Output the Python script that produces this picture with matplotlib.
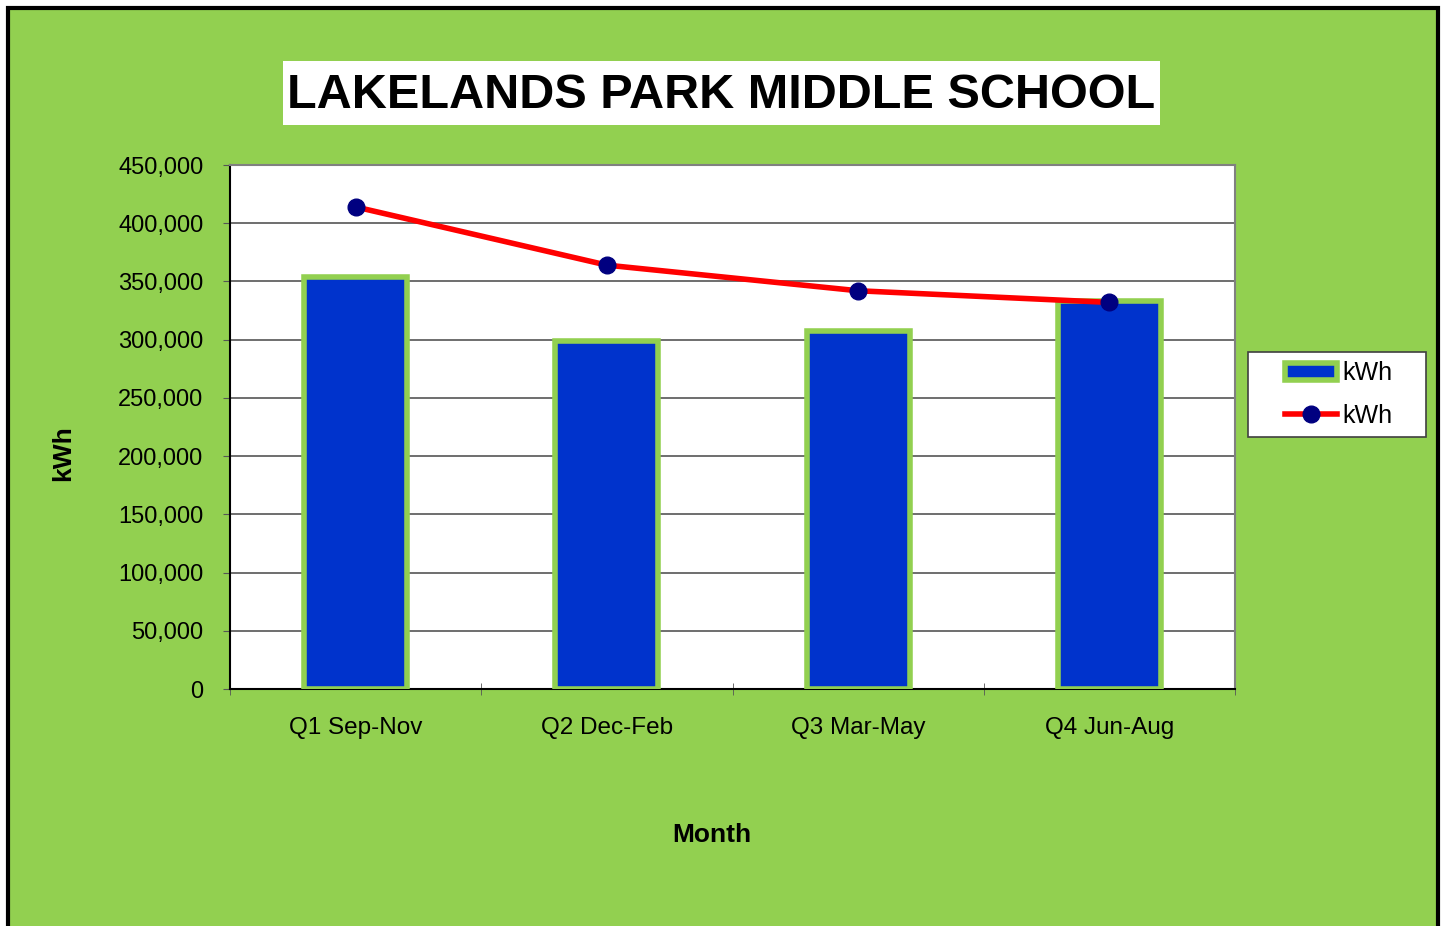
import matplotlib
matplotlib.use("Agg")
import matplotlib.pyplot as plt
from matplotlib.patches import Rectangle
from matplotlib.ticker import FuncFormatter, MultipleLocator
import numpy as np

categories = ["Q1 Sep-Nov", "Q2 Dec-Feb", "Q3 Mar-May", "Q4 Jun-Aug"]
bar_kwh = [354000, 299000, 307500, 333500]
line_kwh = [414000, 364000, 342000, 332000]
title = "LAKELANDS PARK MIDDLE SCHOOL"

GREEN = "#92D050"
BLUE = "#0033CC"
NAVY = "#000080"

plt.rcParams['font.family'] = ['Liberation Sans', 'DejaVu Sans']

W, H = 1444, 926
fig = plt.figure(figsize=(W/100, H/100), dpi=100)
fig.patch.set_facecolor("white")

# outer green panel with black border
fig.patches.append(Rectangle((8/W, -0.05), (1438-8)/W, (H-8)/H + 0.05,
                             transform=fig.transFigure, facecolor=GREEN,
                             edgecolor="black", linewidth=3, zorder=-10))
# title box
fig.patches.append(Rectangle((283/W, 1-125/H), (1160-283)/W, (125-61)/H,
                             transform=fig.transFigure, facecolor="white",
                             edgecolor="none", zorder=-9))
fig.text(721/W, 1-95/H, title, ha="center", va="center", fontsize=35,
         fontweight="bold", color="black", zorder=2)
# legend box
fig.patches.append(Rectangle((1248/W, 1-437/H), (1426-1248)/W, (437-352)/H,
                             transform=fig.transFigure, facecolor="white",
                             edgecolor="#404040", linewidth=1.2, zorder=-8))

ax = fig.add_axes([230/W, 1-689/H, (1235-230)/W, (689-165)/H])
ax.set_zorder(5)
ax.set_facecolor("white")

x = np.arange(len(categories))
bars = ax.bar(x, bar_kwh, width=0.41, color=BLUE, edgecolor=GREEN,
              linewidth=4, label="kWh", zorder=3)
line, = ax.plot(x, line_kwh, color="red", linewidth=4, marker="o",
                markersize=12, markerfacecolor=NAVY, markeredgecolor=NAVY,
                label="kWh", zorder=4)

ax.set_xlim(-0.5, len(categories)-0.5)
ax.set_ylim(0, 450000)
ax.yaxis.set_major_locator(MultipleLocator(50000))
ax.yaxis.set_major_formatter(FuncFormatter(lambda v, p: f"{int(v):,}"))
ax.grid(axis="y", color="#555555", linewidth=1.2, zorder=1)
ax.set_axisbelow(True)

ax.set_xticks(x)
ax.set_xticklabels(categories)
ax.set_xticks(np.arange(len(categories)+1) - 0.5, minor=True)
ax.tick_params(axis="x", which="major", length=0, pad=20, labelsize=17.5)
ax.tick_params(axis="x", which="minor", length=8, direction="inout",
               color="#555555")
ax.tick_params(axis="y", length=5, direction="out", color="#555555",
               labelsize=17, pad=14)

ax.spines["left"].set_color("black")
ax.spines["bottom"].set_color("black")
ax.spines["top"].set_color("#808080")
ax.spines["right"].set_color("#808080")
for s in ax.spines.values():
    s.set_linewidth(1.5)

fig.text(63/W, 1-453/H, "kWh", rotation=90, ha="center", va="center",
         fontsize=19, fontweight="bold")
fig.text(712/W, 1-835/H, "Month", ha="center", va="center",
         fontsize=19, fontweight="bold")

leg = ax.legend(handles=[bars, line], labels=["kWh", "kWh"],
                loc="center", bbox_to_anchor=((1248+1426)/2/W + 0.001, 1-(352+437)/2/H),
                bbox_transform=fig.transFigure, fontsize=18, frameon=False,
                handlelength=2.1, handletextpad=0.2, borderpad=0.3,
                labelspacing=0.75)

fig.savefig("out.png", dpi=100, facecolor=fig.get_facecolor())
